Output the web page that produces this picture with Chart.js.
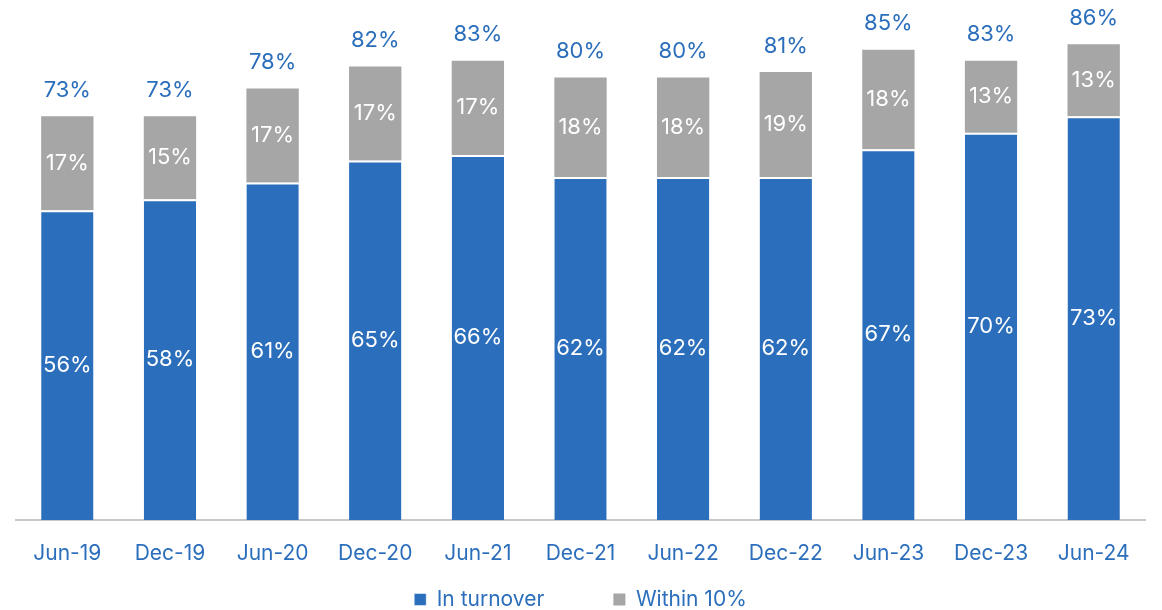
<!DOCTYPE html>
<html>
<head>
<meta charset="utf-8">
<script src="https://cdn.jsdelivr.net/npm/chart.js@4"></script>
<style>
  html, body { margin: 0; padding: 0; background: #fff; }
  #wrap { width: 1162px; height: 610px; }
</style>
</head>
<body>
<div id="wrap"><canvas id="turnoverChart"></canvas></div>
<script>
var periods = ['Jun-19', 'Dec-19', 'Jun-20', 'Dec-20', 'Jun-21', 'Dec-21', 'Jun-22', 'Dec-22', 'Jun-23', 'Dec-23', 'Jun-24'];
var inTurnover = [56, 58, 61, 65, 66, 62, 62, 62, 67, 70, 73];
var within10 = [17, 15, 17, 17, 17, 18, 18, 19, 18, 13, 13];
var totals = [73, 73, 78, 82, 83, 80, 80, 81, 85, 83, 86];

var BLUE = '#2b6ebb';
var GREY = '#a6a6a6';
var FONT = 'Inter, "Open Sans", sans-serif';

// draws the % labels inside segments and the totals above each bar
var barLabels = {
    id: 'barLabels',
    afterDatasetsDraw: function (chart) {
        var ctx = chart.ctx;
        ctx.save();
        ctx.font = '22px ' + FONT;
        ctx.textAlign = 'center';
        ctx.textBaseline = 'middle';
        chart.data.datasets.forEach(function (ds, i) {
            var meta = chart.getDatasetMeta(i);
            meta.data.forEach(function (bar, j) {
                var mid = (bar.y + bar.base) / 2;
                ctx.fillStyle = '#ffffff';
                ctx.fillText(ds.data[j] + '%', bar.x, mid);
            });
        });
        var top = chart.getDatasetMeta(1);
        ctx.fillStyle = BLUE;
        top.data.forEach(function (bar, j) {
            ctx.fillText(totals[j] + '%', bar.x, bar.y - 26);
        });
        ctx.restore();
    }
};

document.addEventListener('DOMContentLoaded', function () {
    var ctx = document.getElementById('turnoverChart').getContext('2d');
    new Chart(ctx, {
        type: 'bar',
        data: {
            labels: periods,
            datasets: [{
                label: 'In turnover',
                data: inTurnover,
                backgroundColor: BLUE,
                borderColor: '#ffffff',
                borderWidth: { top: 2 },
                borderSkipped: false,
                categoryPercentage: 1,
                barPercentage: 0.51
            }, {
                label: 'Within 10%',
                data: within10,
                backgroundColor: GREY,
                borderWidth: 0,
                categoryPercentage: 1,
                barPercentage: 0.51
            }]
        },
        options: {
            responsive: true,
            maintainAspectRatio: false,
            animation: false,
            layout: { padding: { left: 16, right: 17, top: 0, bottom: -10 } },
            plugins: {
                tooltip: { enabled: false },
                legend: {
                    position: 'bottom',
                    labels: {
                        color: BLUE,
                        font: { family: FONT, size: 21 },
                        boxWidth: 12,
                        boxHeight: 12,
                        padding: 10,
                        generateLabels: function (chart) {
                            var items = Chart.defaults.plugins.legend.labels.generateLabels(chart);
                            // widen the gap between the two entries
                            items[0].text = items[0].text + '\u00a0\u00a0\u00a0\u00a0\u00a0\u00a0\u00a0\u00a0\u00a0\u00a0';
                            return items;
                        }
                    }
                }
            },
            scales: {
                x: {
                    stacked: true,
                    grid: { display: false },
                    border: { display: true, color: '#c8c8c8', width: 2 },
                    ticks: {
                        color: BLUE,
                        font: { family: FONT, size: 21 },
                        padding: 13
                    },
                    afterFit: function (scale) {
                        scale.height = 59;
                    }
                },
                y: {
                    stacked: true,
                    display: false,
                    min: 0,
                    max: 94
                }
            }
        },
        plugins: [barLabels]
    });
});
</script>
</body>
</html>
